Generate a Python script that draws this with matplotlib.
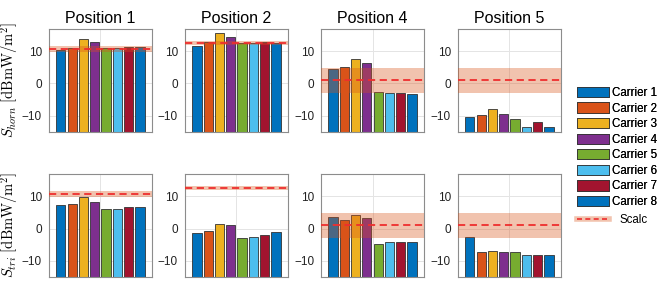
import numpy as np
import matplotlib
matplotlib.use("Agg")
import matplotlib.pyplot as plt
from matplotlib.patches import Patch
from matplotlib.lines import Line2D

plt.rcParams['font.family'] = ['Liberation Sans', 'DejaVu Sans']
plt.rcParams['mathtext.fontset'] = 'cm'

# data
carriers = ['Carrier 1', 'Carrier 2', 'Carrier 3', 'Carrier 4',
            'Carrier 5', 'Carrier 6', 'Carrier 7', 'Carrier 8']
positions = ['Position 1', 'Position 2', 'Position 4', 'Position 5']

horn_p1 = [10.5, 11.0, 13.8, 12.7, 11.0, 11.0, 11.4, 11.2]
horn_p2 = [11.7, 12.7, 15.6, 14.5, 12.5, 12.5, 12.8, 12.5]
horn_p4 = [4.6, 5.1, 7.5, 6.4, -2.6, -3.1, -2.8, -3.4]
horn_p5 = [-10.4, -9.9, -7.9, -9.5, -10.9, -13.4, -11.8, -13.6]

tri_p1 = [7.3, 7.7, 9.8, 8.4, 6.0, 6.1, 6.6, 6.7]
tri_p2 = [-1.4, -0.7, 1.5, 1.0, -2.9, -2.6, -2.1, -1.1]
tri_p4 = [3.5, 2.6, 4.3, 3.2, -4.9, -4.3, -4.2, -4.3]
tri_p5 = [-2.6, -7.1, -6.8, -7.4, -7.3, -8.3, -8.2, -8.3]

calc_mean = [10.8, 12.5, 1.0, 1.1]
calc_lo = [9.9, 11.9, -3.0, -3.0]
calc_hi = [11.7, 13.1, 4.9, 4.9]

rows = [[horn_p1, horn_p2, horn_p4, horn_p5],
        [tri_p1, tri_p2, tri_p4, tri_p5]]
row_labels = [r'$S_{horn}\ [\mathrm{dBmW/m^2}]$',
              r'$S_{tri}\ [\mathrm{dBmW/m^2}]$']

colors = ['#0072BD', '#D95319', '#EDB120', '#7E2F8E',
          '#77AC30', '#4DBEEE', '#A2142F', '#0072BD']
band_col = '#D95319'
line_col = '#EE2E2E'
ymin, ymax = -15, 17

fig = plt.figure(figsize=(6.6, 2.95), dpi=100)
lefts = [0.0742, 0.2803, 0.4864, 0.6939]
bottoms = [0.553, 0.061]
w, h = 0.156, 0.35

x = np.arange(len(carriers))
for r in range(2):
    for c in range(4):
        ax = fig.add_axes([lefts[c], bottoms[r], w, h])
        vals = np.array(rows[r][c])
        ax.bar(x, vals - ymin, bottom=ymin, width=0.82, color=colors,
               edgecolor='#333333', linewidth=0.6, zorder=2)
        ax.axhspan(calc_lo[c], calc_hi[c], color=band_col, alpha=0.35,
                   lw=0, zorder=3)
        ax.axhline(calc_mean[c], color=line_col, lw=1.3,
                   dashes=(4, 2.5), zorder=4)
        ax.set_xlim(-1.05, 8.05)
        ax.set_ylim(ymin, ymax)
        ax.set_xticks([3.5])
        ax.set_xticklabels([])
        ax.set_yticks([-10, 0, 10])
        ax.tick_params(length=0, labelsize=8.5, pad=5, colors='#222222')
        ax.grid(True, color='#e4e4e4', lw=0.7, zorder=0)
        ax.set_axisbelow(True)
        for s in ax.spines.values():
            s.set_color('#8c8c8c')
            s.set_linewidth(0.8)
        if r == 0:
            ax.set_title(positions[c], fontsize=11.5, pad=4)
        if c == 0:
            ax.set_ylabel(row_labels[r], fontsize=10.5, labelpad=1)

handles = [Patch(facecolor=colors[i], edgecolor='#333333', linewidth=0.6)
           for i in range(len(carriers))]
leg1 = fig.legend(handles, carriers, loc='upper left',
                  bbox_to_anchor=(0.865, 0.725), frameon=False,
                  fontsize=8.3, handlelength=2.8, handleheight=1.0,
                  labelspacing=0.3, handletextpad=0.3, borderpad=0)
fig.add_artist(leg1)

calc_handle = (Line2D([], [], color=band_col, alpha=0.35, lw=4),
               Line2D([], [], color=line_col, lw=1.2, dashes=(3, 2)))
fig.legend([calc_handle], ['Scalc'], loc='upper left',
           bbox_to_anchor=(0.865, 0.295), frameon=False,
           fontsize=8.3, handlelength=2.8, handletextpad=0.9, borderpad=0)

fig.savefig('out.png', dpi=100)
